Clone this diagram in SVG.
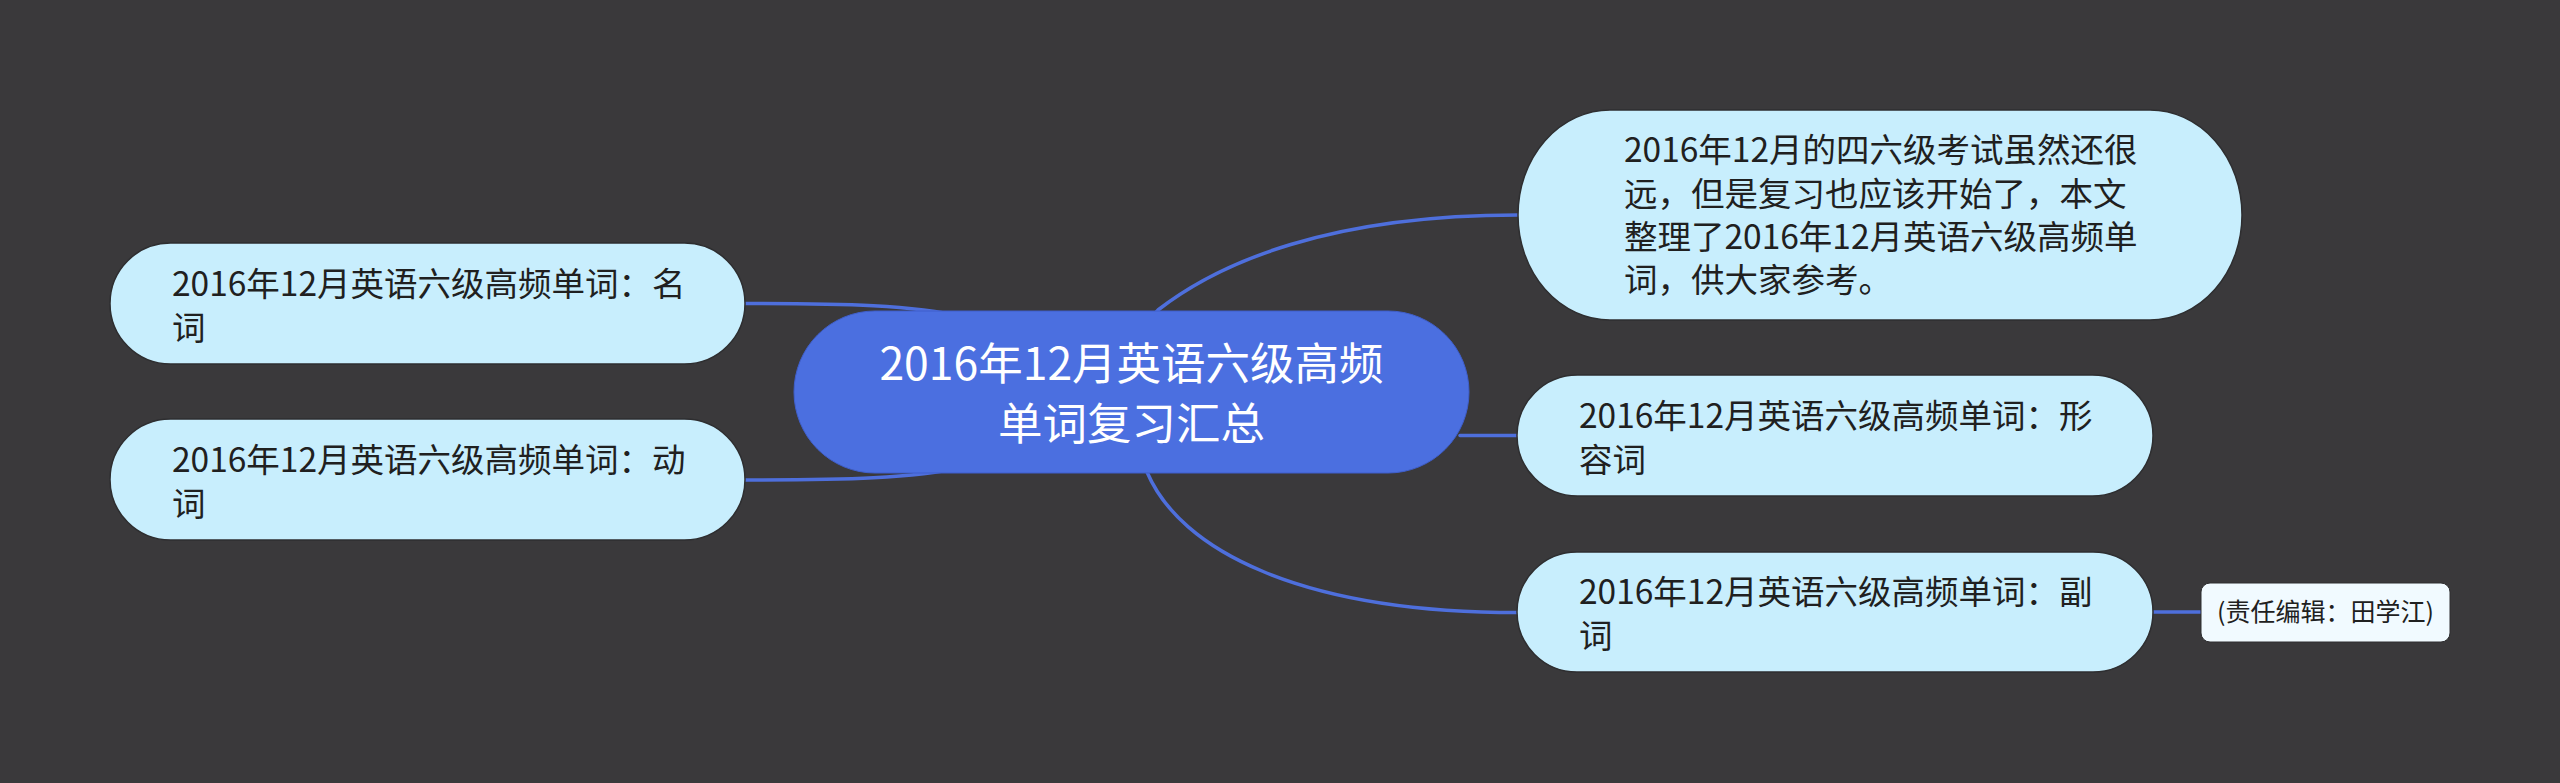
<svg xmlns="http://www.w3.org/2000/svg" width="2560" height="783" viewBox="0 0 2560 783">
<style>
.bg{fill:#3a393b}
.conn{fill:none;stroke:#4e6fdc;stroke-width:3.5;stroke-linecap:round}
.sub{fill:#c8eefd;stroke:#2e2e30;stroke-width:1.5}
.root{fill:#4b6fe0;stroke:#3f5fcc;stroke-width:1}
.note{fill:#f1faff;stroke:#2e2e30;stroke-width:1}
.t{font-family:"Noto Sans CJK SC","Noto Sans",sans-serif;font-size:33.5px;fill:#202020}
.rt{font-family:"Noto Sans CJK SC","Noto Sans",sans-serif;font-size:44.5px;fill:#ffffff;text-anchor:middle}
.nt{font-family:"Noto Sans CJK SC","Noto Sans",sans-serif;font-size:25px;fill:#202020;text-anchor:middle}
</style>
<rect class="bg" x="0" y="0" width="2560" height="783"/>
<g id="connectors">
<path class="conn" d="M 745 303.5 C 950 303.5, 1000 310, 1131 392"/>
<path class="conn" d="M 745 480 C 950 480, 1000 474, 1131 392"/>
<path class="conn" d="M 1140 330 L 1158 310 C 1220 262, 1330 215, 1518 215"/>
<path class="conn" d="M 1460 435.5 L 1518 435.5"/>
<path class="conn" d="M 1140 455 L 1147 472 C 1180 550, 1300 612.5, 1518 612.5"/>
<path class="conn" d="M 2150 612 L 2202 612"/>
</g>
<g id="root">
<rect class="root" x="794" y="311" width="675" height="162" rx="81" ry="81"/>
<text class="rt"><tspan x="1131.5" y="380">2016年12月英语六级高频</tspan><tspan x="1131.5" y="440">单词复习汇总</tspan></text>
</g>
<g id="node-noun">
<rect class="sub" x="110" y="243" width="635" height="121" rx="60.5" ry="60.5"/>
<text class="t"><tspan x="172" y="296">2016年12月英语六级高频单词：名</tspan><tspan x="172" y="340">词</tspan></text>
</g>
<g id="node-verb">
<rect class="sub" x="110" y="419" width="635" height="121" rx="60.5" ry="60.5"/>
<text class="t"><tspan x="172" y="472">2016年12月英语六级高频单词：动</tspan><tspan x="172" y="516">词</tspan></text>
</g>
<g id="node-intro">
<rect class="sub" x="1518" y="110" width="724" height="210" rx="92" ry="105"/>
<text class="t"><tspan x="1624" y="162">2016年12月的四六级考试虽然还很</tspan><tspan x="1624" y="206">远，但是复习也应该开始了，本文</tspan><tspan x="1624" y="249">整理了2016年12月英语六级高频单</tspan><tspan x="1624" y="292">词，供大家参考。</tspan></text>
</g>
<g id="node-adj">
<rect class="sub" x="1517" y="375" width="636" height="121" rx="60.5" ry="60.5"/>
<text class="t"><tspan x="1579" y="428">2016年12月英语六级高频单词：形</tspan><tspan x="1579" y="472">容词</tspan></text>
</g>
<g id="node-adv">
<rect class="sub" x="1517" y="552" width="636" height="120" rx="60" ry="60"/>
<text class="t"><tspan x="1579" y="604">2016年12月英语六级高频单词：副</tspan><tspan x="1579" y="648">词</tspan></text>
</g>
<g id="node-editor">
<rect class="note" x="2201" y="583" width="249" height="59" rx="9" ry="9"/>
<text class="nt" x="2325.5" y="621">(责任编辑：田学江)</text>
</g>
</svg>
